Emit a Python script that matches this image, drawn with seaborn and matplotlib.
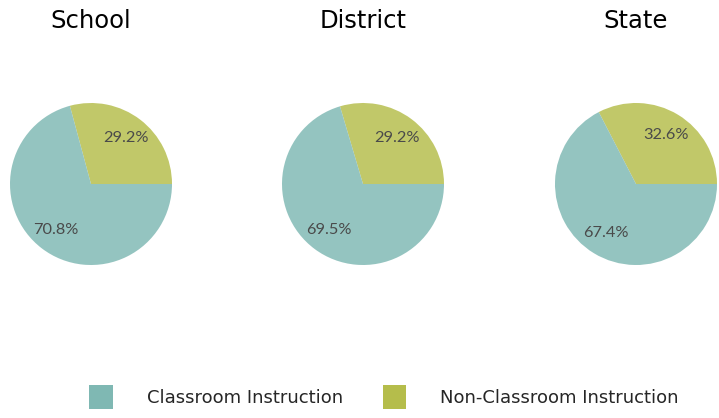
import matplotlib
matplotlib.use("Agg")
import matplotlib.pyplot as plt
import seaborn as sns
from matplotlib.patches import Patch

sns.set_theme(style="white")
plt.rcParams["font.family"] = ["DejaVu Sans"]

# data
groups = ["School", "District", "State"]
categories = ["Classroom Instruction", "Non-Classroom Instruction"]
classroom = [70.8, 69.5, 67.4]
non_classroom = [29.2, 29.2, 32.6]

colors = {"Classroom Instruction": "#7FB8B3", "Non-Classroom Instruction": "#B5BD4B"}

W, H = 719, 418
fig = plt.figure(figsize=(W / 100, H / 100), dpi=100)

centers = [91, 363, 636]
cy, r = 184, 81
for name, cx, c_val, n_val in zip(groups, centers, classroom, non_classroom):
    ax = fig.add_axes([(cx - r) / W, (H - cy - r) / H, 2 * r / W, 2 * r / H])
    vals = [n_val, c_val]
    cols = [colors[categories[1]], colors[categories[0]]]
    wedges, _, autotexts = ax.pie(vals, colors=cols, startangle=0, counterclock=True,
                                  autopct="%.1f%%", pctdistance=0.71,
                                  wedgeprops=dict(alpha=0.83, linewidth=0),
                                  textprops=dict(color="#4a4a4a", fontsize=11.8,
                                                 family="Lato"))
    for t, v in zip(autotexts, vals):
        t.set_text(f"{v:.1f}%")
    ax.set_xlim(-1, 1)
    ax.set_ylim(-1, 1)
    ax.set_aspect("equal")
    fig.text(cx / W, 1 - 21 / H, name, ha="center", va="center", fontsize=17.5,
             color="#000000")

handles = [Patch(facecolor=colors[c], edgecolor="none") for c in categories]
fig.legend(handles, categories, loc="center", bbox_to_anchor=(384 / W, 1 - 397 / H),
           ncol=2, frameon=False, handlelength=1.3, handleheight=1.75,
           handletextpad=1.9, columnspacing=2.2,
           prop=dict(size=13))

fig.savefig("out.png", dpi=100)
